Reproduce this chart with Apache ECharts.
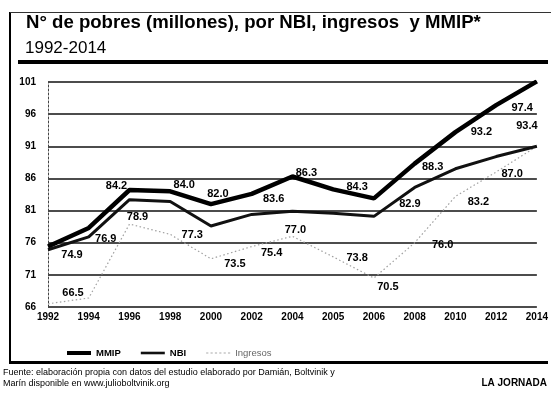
<!DOCTYPE html>
<html>
<head>
<meta charset="utf-8">
<script src="https://cdn.jsdelivr.net/npm/echarts@6/dist/echarts.min.js"></script>
<style>
html,body{margin:0;padding:0;background:#fff;}
#c{width:551px;height:398px;}
</style>
</head>
<body>
<div id="c"></div>
<script>
// ---- Data ----
const years = ['1992','1994','1996','1998','2000','2002','2004','2005','2006','2008','2010','2012','2014'];
const mmip = [75.4, 78.3, 84.2, 84.0, 82.0, 83.6, 86.3, 84.3, 82.9, 88.3, 93.2, 97.4, 101.1];
const nbi = [74.9, 76.9, 82.7, 82.4, 78.6, 80.4, 80.9, 80.6, 80.1, 84.6, 87.5, 89.4, 91.0];
const ingresos = [66.5, 67.4, 78.9, 77.3, 73.5, 75.4, 77.0, 73.8, 70.5, 76.0, 83.2, 87.0, 91.0];
// printed value labels (as they appear in the source)
const mmipLabels = ['', '', '84.2', '84.0', '82.0', '83.6', '86.3', '84.3', '82.9', '88.3', '93.2', '97.4', '101.1'];
const nbiLabels = ['74.9', '76.9', '', '', '', '', '', '', '', '', '', '', '93.4'];
const ingLabels = ['66.5', '', '78.9', '77.3', '73.5', '75.4', '77.0', '73.8', '70.5', '76.0', '83.2', '87.0', ''];
const yTicks = {min: 66, max: 101, step: 5};

// ---- label placement (style) ----
const mmipOff = [[0,0],[0,0],[-13,-4],[14,-6],[7,-10],[22,5],[14,-4],[24,-2],[36,6],[18,3],[26,0],[26,3],[-2,-5]];
const nbiOff = [[24,5],[17,2],[0,0],[0,0],[0,0],[0,0],[0,0],[0,0],[0,0],[0,0],[0,0],[0,0],[-10,-20]];
const ingOff = [[25,-11],[0,0],[8,-7],[22,1],[24,5],[20,6],[3,-6],[24,1],[14,9],[28,2],[23,6],[16,2],[0,0]];

const labelFont = {fontFamily:'Liberation Sans', fontWeight:'bold', fontSize:11, color:'#000', letterSpacing:-0.3};

function mk(vals, offs){
  return vals.map((v,i)=>({value:v, label:{offset:offs[i]}}));
}
function lbl(arr){
  return Object.assign({show:true, position:'inside', formatter:p=>arr[p.dataIndex]}, labelFont);
}

const dots = 'path://' + [0,4,8,12,16,20].map(x=>'M'+x+',0H'+(x+2)+'V1H'+x+'Z').join(' ') + ' M21.9,0H22V1H21.9Z';

const chart = echarts.init(document.getElementById('c'), null, {renderer:'canvas'});
chart.setOption({
  animation:false,
  backgroundColor:'#fff',
  title:[
    {text:'N° de pobres (millones), por NBI, ingresos  y MMIP*', left:21, top:8,
     textStyle:{fontFamily:'Liberation Sans', fontWeight:'bold', fontSize:18.6, color:'#000'}},
    {text:'1992-2014', left:20, top:35,
     textStyle:{fontFamily:'Liberation Sans', fontWeight:'normal', fontSize:17, color:'#000'}}
  ],
  grid:{left:48, right:14, top:82, bottom:91},
  legend:{
    left:62, top:343, itemWidth:24, itemHeight:8, itemGap:20,
    textStyle:{fontFamily:'Liberation Sans', fontWeight:'bold', fontSize:9.5, color:'#000'},
    data:[
      {name:'MMIP', icon:'path://M0,0H24V4H0Z', itemStyle:{color:'#000'}},
      {name:'NBI', icon:'path://M0,0H24V2.6H0Z', itemStyle:{color:'#111'}},
      {name:'Ingresos', icon:dots, itemStyle:{color:'#aaa'}, textStyle:{color:'#666', fontWeight:'normal'}}
    ]
  },
  xAxis:{
    type:'category', data:years, boundaryGap:false,
    axisLine:{show:false}, axisTick:{show:false},
    axisLabel:{margin:5, fontFamily:'Liberation Sans', fontWeight:'bold', fontSize:10, color:'#000'},
    splitLine:{show:false}
  },
  yAxis:{
    type:'value', min:yTicks.min, max:yTicks.max, interval:yTicks.step,
    axisLine:{show:true, lineStyle:{color:'#444', width:1, type:[2,2]}},
    axisTick:{show:false},
    axisLabel:{margin:12, fontFamily:'Liberation Sans', fontWeight:'bold', fontSize:10, color:'#000'},
    splitLine:{show:true, lineStyle:{color:'#111', width:1.5}}
  },
  series:[
    {name:'Ingresos', type:'line', data:mk(ingresos, ingOff), symbol:'circle', symbolSize:0, showSymbol:true,
     itemStyle:{color:'#999'}, lineStyle:{color:'#a0a0a0', width:1.2, type:[1.5,2.5]}, label:lbl(ingLabels), z:2},
    {name:'NBI', type:'line', data:mk(nbi, nbiOff), symbol:'circle', symbolSize:0, showSymbol:true,
     itemStyle:{color:'#111'}, lineStyle:{color:'#111', width:3}, label:lbl(nbiLabels), z:3},
    {name:'MMIP', type:'line', data:mk(mmip, mmipOff), symbol:'circle', symbolSize:0, showSymbol:true,
     itemStyle:{color:'#000'}, lineStyle:{color:'#000', width:4.5}, label:lbl(mmipLabels), z:4}
  ],
  graphic:[
    {type:'rect', shape:{x:9, y:12, width:2, height:352}, style:{fill:'#000'}},
    {type:'rect', shape:{x:10, y:12, width:541, height:1}, style:{fill:'#333'}},
    {type:'rect', shape:{x:18, y:60, width:530, height:4}, style:{fill:'#000'}},
    {type:'rect', shape:{x:10, y:361, width:538, height:3}, style:{fill:'#000'}},
    {type:'text', left:3, top:368, style:{text:'Fuente: elaboración propia con datos del estudio elaborado por Damián, Boltvinik y', fontFamily:'Liberation Sans', fontSize:9, fill:'#000'}},
    {type:'text', left:3, top:379, style:{text:'Marín disponible en www.julioboltvinik.org', fontFamily:'Liberation Sans', fontSize:9, fill:'#000'}},
    {type:'text', right:4, top:378, style:{text:'LA JORNADA', fontFamily:'Liberation Sans', fontWeight:'bold', fontSize:10, fill:'#000'}}
  ]
});
</script>
</body>
</html>
